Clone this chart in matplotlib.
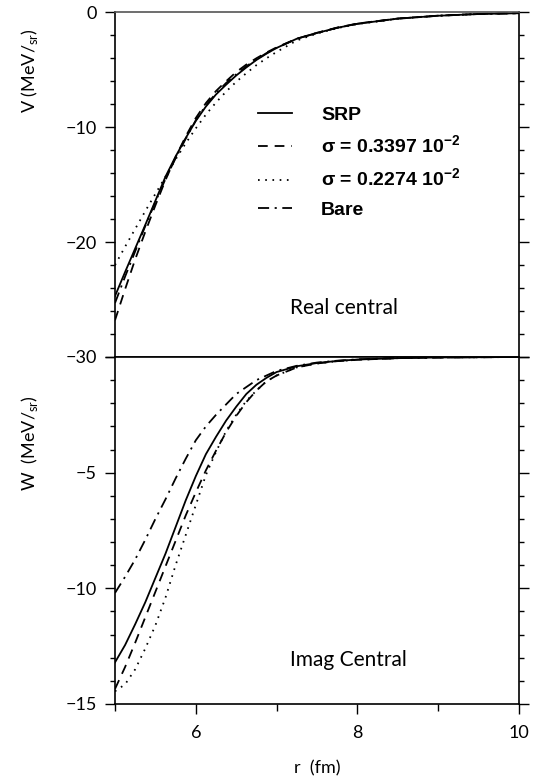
import matplotlib
matplotlib.use("Agg")
import matplotlib.pyplot as plt
from matplotlib.ticker import FixedLocator, MultipleLocator, FuncFormatter
from matplotlib.font_manager import FontProperties

plt.rcParams['lines.scale_dashes'] = False

# ---------------- data ----------------
r = [5.0, 5.125, 5.25, 5.375, 5.5, 5.625, 5.75, 5.875, 6.0, 6.125, 6.25, 6.375, 6.5,
     6.625, 6.75, 6.875, 7.0, 7.25, 7.5, 7.75, 8.0, 8.5, 9.0, 9.5, 10.0]

V_srp  = [-24.7, -22.6, -20.55, -18.5, -16.4, -14.3, -12.55, -10.95, -9.45, -8.2, -7.15, -6.3, -5.5,
          -4.8, -4.15, -3.6, -3.1, -2.3, -1.8, -1.35, -1.0, -0.55, -0.3, -0.15, -0.08]
V_sig1 = [-26.8, -24.1, -21.5, -19.1, -16.8, -14.6, -12.6, -10.8, -9.2, -7.9, -6.85, -6.0, -5.2,
          -4.55, -4.0, -3.5, -3.05, -2.3, -1.78, -1.33, -0.98, -0.54, -0.29, -0.14, -0.07]
V_sig2 = [-22.0, -20.4, -18.85, -17.3, -15.8, -14.3, -12.8, -11.4, -10.1, -8.9, -7.85, -6.9, -6.05,
          -5.3, -4.6, -4.0, -3.45, -2.45, -1.85, -1.38, -1.02, -0.56, -0.3, -0.15, -0.08]
V_bare = [-25.3, -23.0, -20.8, -18.6, -16.5, -14.5, -12.7, -11.0, -9.4, -8.1, -7.05, -6.15, -5.4,
          -4.7, -4.1, -3.55, -3.1, -2.3, -1.8, -1.35, -1.0, -0.55, -0.3, -0.15, -0.08]

W_srp  = [-13.2, -12.45, -11.55, -10.6, -9.55, -8.5, -7.35, -6.2, -5.15, -4.2, -3.45, -2.75, -2.15,
          -1.6, -1.2, -0.9, -0.65, -0.4, -0.26, -0.17, -0.11, -0.05, -0.02, -0.01, 0.0]
W_sig1 = [-14.35, -13.4, -12.35, -11.25, -10.15, -9.05, -7.95, -6.85, -5.85, -4.9, -4.05, -3.25, -2.55,
          -1.95, -1.45, -1.05, -0.8, -0.45, -0.28, -0.18, -0.12, -0.05, -0.02, -0.01, 0.0]
W_sig2 = [-14.45, -14.15, -13.5, -12.6, -11.6, -10.4, -9.0, -7.7, -6.4, -5.1, -4.1, -3.2, -2.5,
          -1.9, -1.45, -1.05, -0.8, -0.45, -0.28, -0.18, -0.12, -0.05, -0.02, -0.01, 0.0]
W_bare = [-10.2, -9.5, -8.75, -7.9, -7.0, -6.15, -5.25, -4.4, -3.6, -3.0, -2.5, -2.05, -1.6,
          -1.3, -1.0, -0.8, -0.6, -0.38, -0.24, -0.16, -0.1, -0.04, -0.02, -0.01, 0.0]

labels = ["SRP", "σ = 0.3397 10$^{\\mathregular{-2}}$", "σ = 0.2274 10$^{\\mathregular{-2}}$", "Bare"]
top_ticks = [0, -10, -20, -30]
bot_ticks = [-5, -10, -15]
x_ticks = [6, 8, 10]

# ---------------- style ----------------
styles = [
    dict(linestyle='-'),
    dict(linestyle=(0, (7, 5))),
    dict(linestyle=(0, (1.2, 4))),
    dict(linestyle=(0, (8, 4, 1.5, 4))),
]
lw = 1.3
fam = ['Lato', 'DejaVu Sans']
tick_fp = FontProperties(family=fam, weight='normal', size=13)

fig = plt.figure(figsize=(5.42, 7.76), dpi=100)
L, R = 115/542, 519/542
ax1 = fig.add_axes([L, 1-357/776, R-L, (357-12.3)/776])
ax2 = fig.add_axes([L, 1-704/776, R-L, (704-357)/776])

def fmt(v, pos):
    if v == 0:
        return "0"
    return "\u2212" + str(int(abs(v)))

for ax in (ax1, ax2):
    ax.set_xlim(5, 10)
    for s in ax.spines.values():
        s.set_linewidth(1.2)
        s.set_color('black')
    ax.tick_params(axis='y', which='both', direction='out', left=True, right=True,
                   width=1.0, color='black', pad=6)
    ax.tick_params(axis='y', which='major', length=7.2)
    ax.tick_params(axis='y', which='minor', length=3.6)

ax1.spines['top'].set_color('#555555')

# top panel
for y, st in zip([V_srp, V_sig1, V_sig2, V_bare], styles):
    ax1.plot(r, y, color='black', lw=lw, **st)
ax1.set_ylim(-30, 0)
ax1.yaxis.set_major_locator(FixedLocator(top_ticks))
ax1.yaxis.set_minor_locator(MultipleLocator(2))
ax1.yaxis.set_major_formatter(FuncFormatter(fmt))
ax1.tick_params(axis='x', which='both', bottom=False, top=False, labelbottom=False)

# bottom panel
for y, st, lab in zip([W_srp, W_sig1, W_sig2, W_bare], styles, labels):
    ax2.plot(r, y, color='black', lw=lw, label=lab, **st)
ax2.set_ylim(-15, 0)
ax2.yaxis.set_major_locator(FixedLocator(bot_ticks + [0]))
ax2.yaxis.set_minor_locator(MultipleLocator(1))
ax2.yaxis.set_major_formatter(FuncFormatter(lambda v, p: "" if v == 0 else fmt(v, p)))
ax2.xaxis.set_major_locator(FixedLocator(x_ticks))
ax2.xaxis.set_minor_locator(FixedLocator([5, 7, 9]))
ax2.xaxis.set_major_formatter(FuncFormatter(lambda v, p: str(int(v))))
ax2.tick_params(axis='x', which='both', direction='out', top=False, width=1.0)
ax2.tick_params(axis='x', which='major', length=7, pad=8)
ax2.tick_params(axis='x', which='minor', length=5)

for ax in (ax1, ax2):
    for lab in ax.get_yticklabels() + ax.get_xticklabels():
        lab.set_fontproperties(tick_fp)

# axis labels
lab_kw = dict(family=fam, size=13, color='black')
fig.text(30/542, 1-71/776, "V (MeV/$_{\\mathregular{sr}}$)", rotation=90, ha='center', va='center', **lab_kw)
fig.text(30/542, 1-443/776, "W  (MeV/$_{\\mathregular{sr}}$)", rotation=90, ha='center', va='center', **lab_kw)
ax2.set_xlabel("r  (fm)", labelpad=14, **lab_kw)

# panel titles
ax1.text(7.17, -25.7, "Real central", ha='left', va='center', family=fam, size=15)
ax2.text(7.17, -13.1, "Imag Central", ha='left', va='center', family=fam, size=15)

# legend (in top panel, using handles from bottom panel)
handles, labs = ax2.get_legend_handles_labels()
ax1.legend(handles, labs, loc='upper left', bbox_to_anchor=(0.31, 0.778),
           frameon=False, handlelength=1.75, handletextpad=1.5, labelspacing=0.55,
           prop=dict(family=['Liberation Sans', 'DejaVu Sans'], weight='bold', size=14))

fig.savefig("out.png", dpi=100)
